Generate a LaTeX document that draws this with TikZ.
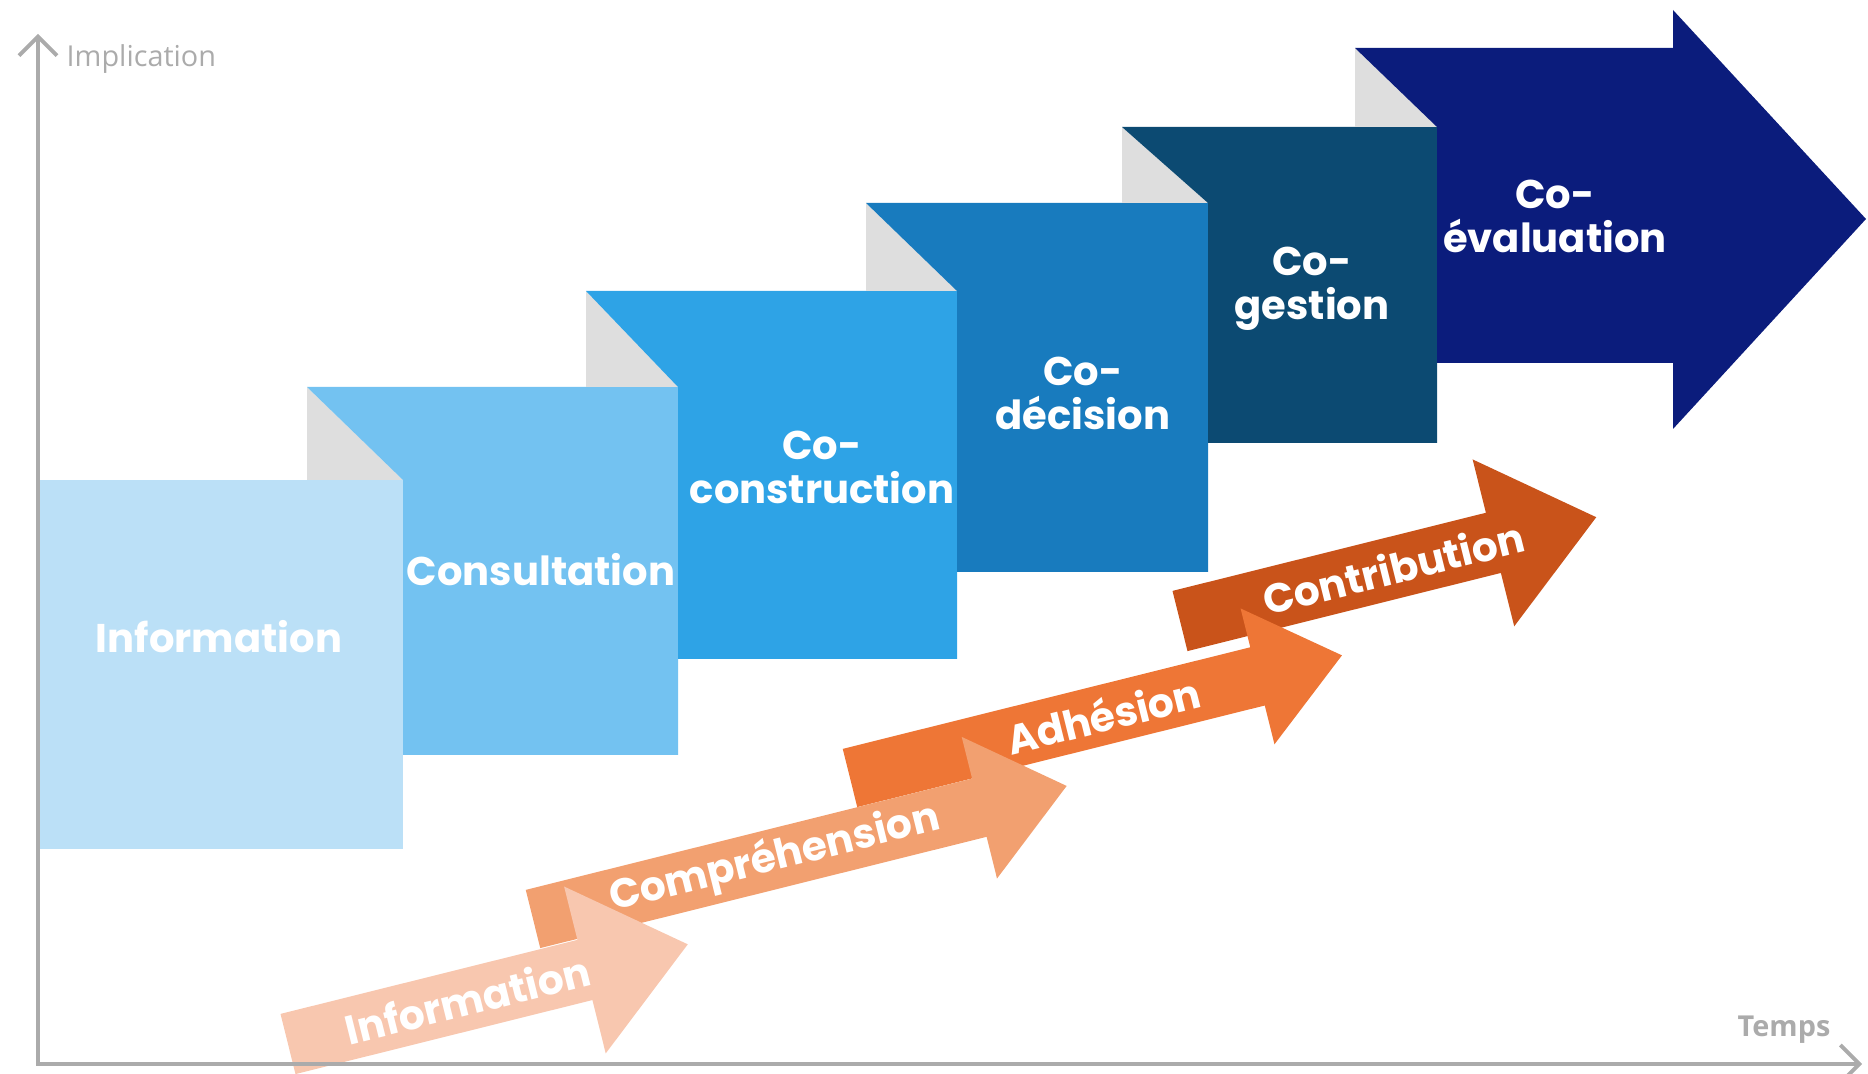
\documentclass[tikz,border=0pt]{standalone}
\usepackage{fontspec}
\newfontfamily\stagefont{Poppins}
\newfontfamily\axisfont{Open Sans}
\usetikzlibrary{arrows.meta}

\definecolor{infoblue}{HTML}{BBE0F7}
\definecolor{consultblue}{HTML}{73C2F1}
\definecolor{constrblue}{HTML}{2EA3E6}
\definecolor{decisionblue}{HTML}{187BBE}
\definecolor{gestionblue}{HTML}{0C4A72}
\definecolor{evalnavy}{HTML}{0B1C7C}
\definecolor{foldgray}{HTML}{DEDEDE}
\definecolor{axisgray}{HTML}{ABABAB}
\definecolor{infopeach}{HTML}{F8C7AF}
\definecolor{comprorange}{HTML}{F2A070}
\definecolor{adhorange}{HTML}{EE7636}
\definecolor{contribrust}{HTML}{C9531A}

\tikzset{
  fold/.style={fill=foldgray},
  boxtext/.style={text=white, align=center, inner sep=0pt,
    font=\stagefont\bfseries\fontsize{11.4}{12.5}\selectfont},
  arrowtext/.style={text=white, inner sep=0pt, transform shape,
    font=\stagefont\bfseries\fontsize{11.6}{13}\selectfont},
  axisline/.style={draw=axisgray, line width=1.1pt,
    -{Straight Barb[length=1.9mm,width=3.8mm]}},
  axislabel/.style={text=axisgray, inner sep=0pt, font=\axisfont\fontsize{8.2}{9}\selectfont},
}

\begin{document}
\begin{tikzpicture}[x=0.1mm, y=-0.1mm]
\useasboundingbox (0,0) rectangle (1868,1074);

% participation stages
\fill[infoblue] (36,480) rectangle (403,849);
\node[boxtext] (info) at (219,637) {Information};

\fill[fold] (307,387) -- (307,480) -- (403,480) -- cycle;
\fill[consultblue] (307,387) -- (678,387) -- (678,755) -- (403,755) -- (403,480) -- cycle;
\node[boxtext] (consult) at (541,570) {Consultation};

\fill[fold] (586,291) -- (586,387) -- (678,387) -- cycle;
\fill[constrblue] (586,291) -- (957,291) -- (957,659) -- (678,659) -- (678,387) -- cycle;
\node[boxtext] (coconstr) at (822,467) {Co-\\construction};

\fill[fold] (866,203) -- (866,291) -- (957,291) -- cycle;
\fill[decisionblue] (866,203) -- (1208,203) -- (1208,572) -- (957,572) -- (957,291) -- cycle;
\node[boxtext] (codecision) at (1083,393) {Co-\\décision};

\fill[fold] (1122,127) -- (1122,203) -- (1208,203) -- cycle;
\fill[gestionblue] (1122,127) -- (1437,127) -- (1437,443) -- (1208,443) -- (1208,203) -- cycle;
\node[boxtext] (cogestion) at (1312,289) {Co-\\gestion};

\fill[fold] (1355,48) -- (1355,127) -- (1437,127) -- cycle;
\fill[evalnavy] (1355,48) -- (1673,48) -- (1673,10) -- (1866,219) -- (1673,429)
  -- (1673,363) -- (1437,363) -- (1437,127) -- cycle;
\node[boxtext] (coeval) at (1555,216) {Co-\\évaluation};

% adhesion arrows, last one first
\begin{scope}[shift={(1180,621)}, rotate=14]
  \fill[contribrust] (0,-31) -- (323,-31) -- (323,-86) -- (429,0) -- (323,86) -- (323,31) -- (0,31) -- cycle;
  \node[arrowtext] (contrib) at (220,0) {Contribution};
\end{scope}
\begin{scope}[shift={(850,778)}, rotate=14]
  \fill[adhorange] (0,-30) -- (420,-30) -- (420,-70) -- (507,0) -- (420,70) -- (420,30) -- (0,30) -- cycle;
  \node[arrowtext] (adhesion) at (261,0) {Adhésion};
\end{scope}
\begin{scope}[shift={(533,919)}, rotate=14]
  \fill[comprorange] (0,-30) -- (460,-30) -- (460,-73) -- (550,0) -- (460,73) -- (460,30) -- (0,30) -- cycle;
  \node[arrowtext] (compr) at (249,0) {Compréhension};
\end{scope}
\begin{scope}[shift={(288,1044)}, rotate=14]
  \fill[infopeach] (0,-31) -- (306,-31) -- (306,-86) -- (412,0) -- (306,86) -- (306,31) -- (0,31) -- cycle;
  \node[arrowtext] (infoarrow) at (185,0) {Information};
\end{scope}

% axes
\coordinate (origin) at (38,1064);
\coordinate (ytop) at (38,34);
\coordinate (xend) at (1862,1064);
\draw[axisline] (38,1066) -- (ytop);
\draw[axisline] (36,1064) -- (xend);
\node[axislabel, anchor=west] (implication) at (66,59) {Implication};
\node[axislabel, font=\axisfont\bfseries\fontsize{8.2}{9}\selectfont] (temps) at (1784,1030) {Temps};
\end{tikzpicture}
\end{document}
